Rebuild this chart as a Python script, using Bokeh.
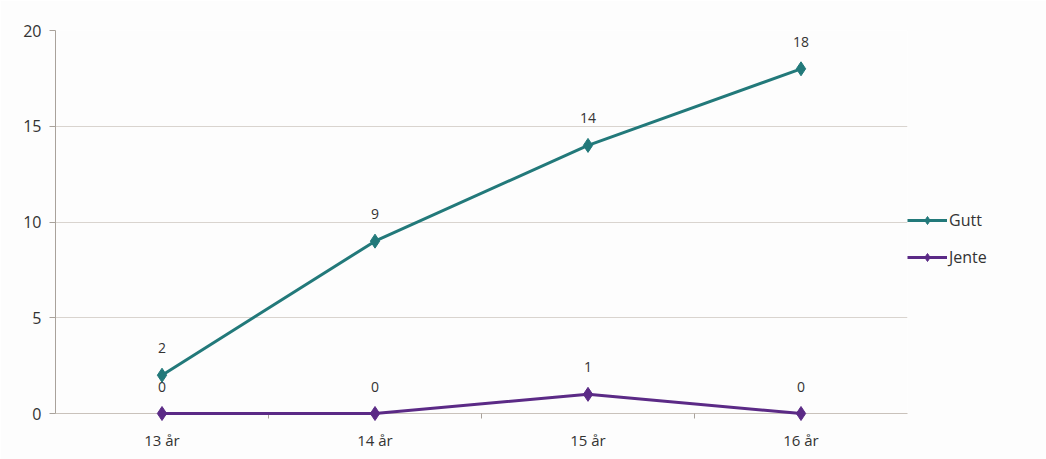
from bokeh.plotting import figure
from bokeh.models import Range1d, FixedTicker, Legend, LegendItem, ColumnDataSource
from bokeh.embed import file_html
from bokeh.resources import INLINE
from bokeh.core.properties import value

years = ["13 år", "14 år", "15 år", "16 år"]
gutt = [2, 9, 14, 18]
jente = [0, 0, 1, 0]
y_ticks = [0, 5, 10, 15, 20]

xs = [i + 0.5 for i in range(len(years))]
bounds = [i for i in range(1, len(years))]

FONT = "Open Sans"
TEXT = "#333333"
TEAL = "#22797a"
PURPLE = "#5b2a86"

p = figure(frame_width=852, frame_height=383, output_backend="svg", toolbar_location=None,
           x_range=Range1d(0, len(years)), y_range=Range1d(0, 20),
           min_border_left=55, min_border_top=30, min_border_bottom=46, min_border_right=139)
p.outline_line_color = None
p.background_fill_color = "#fdfdfd"
p.border_fill_color = "#fdfdfd"

p.xgrid.visible = False
p.ygrid.grid_line_color = "#d9d4cf"
p.ygrid.ticker = FixedTicker(ticks=y_ticks)

p.yaxis.ticker = FixedTicker(ticks=y_ticks)
p.yaxis.axis_line_color = "#a9a29b"
p.yaxis.major_tick_line_color = "#a9a29b"
p.yaxis.major_tick_out = 6
p.yaxis.major_tick_in = 0
p.yaxis.minor_tick_line_color = None
p.yaxis.major_label_text_font = FONT
p.yaxis.major_label_text_font_size = "16px"
p.yaxis.major_label_text_color = TEXT
p.yaxis.major_label_standoff = 8

p.xaxis.ticker = FixedTicker(ticks=xs, minor_ticks=bounds)
p.xaxis.major_label_overrides = {x: lab for x, lab in zip(xs, years)}
p.xaxis.axis_line_color = "#c9c2bb"
p.xaxis.major_tick_line_color = None
p.xaxis.minor_tick_line_color = "#a9a29b"
p.xaxis.minor_tick_out = 5
p.xaxis.minor_tick_in = 0
p.xaxis.major_label_text_font = FONT
p.xaxis.major_label_text_font_size = "15px"
p.xaxis.major_label_text_color = TEXT
p.xaxis.major_label_standoff = 10

src_g = ColumnDataSource(dict(x=xs, y=gutt, t=[str(v) for v in gutt]))
src_j = ColumnDataSource(dict(x=xs, y=jente, t=[str(v) for v in jente]))

lg = p.line("x", "y", source=src_g, line_color=TEAL, line_width=3)
mg = p.scatter("x", "y", source=src_g, marker="diamond", size=14, fill_color=TEAL, line_color=TEAL)
lj = p.line("x", "y", source=src_j, line_color=PURPLE, line_width=3)
mj = p.scatter("x", "y", source=src_j, marker="diamond", size=14, fill_color=PURPLE, line_color=PURPLE)
for r in (lg, mg, lj, mj):
    r.level = "overlay"

for src in (src_g, src_j):
    p.text("x", "y", text="t", source=src, text_font=value(FONT), text_font_size="14px",
           text_color=TEXT, text_align="center", text_baseline="middle", y_offset=-27)

legend = Legend(items=[LegendItem(label="Gutt", renderers=[lg, mg]),
                       LegendItem(label="Jente", renderers=[lj, mj])],
                location=(0, 145), orientation="vertical")
legend.margin = 0
legend.padding = 5
legend.border_line_color = None
legend.background_fill_alpha = 0
legend.glyph_width = 40
legend.label_standoff = 2
legend.spacing = 15
legend.label_text_font = FONT
legend.label_text_font_size = "16px"
legend.label_text_color = TEXT
p.add_layout(legend, "right")

open("out.html", "w").write(file_html(p, INLINE))
